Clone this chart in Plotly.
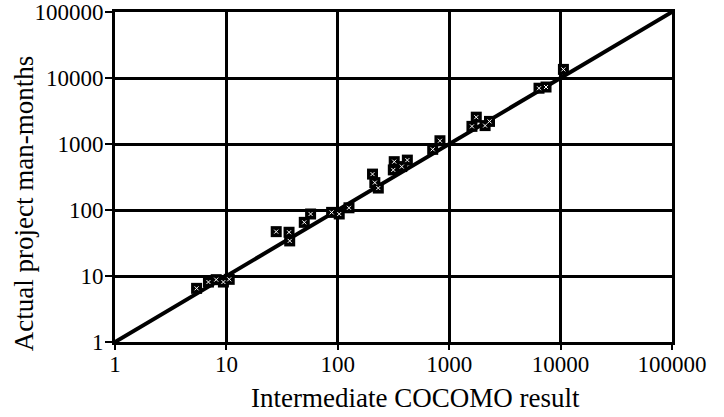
import plotly.graph_objects as go

# COCOMO estimate vs. actual effort
cocomo_result = [5.4, 6.9, 8.1, 9.4, 10.6, 28, 36.5, 37, 50, 57, 88, 103, 126,
                 205, 215, 231, 315, 321, 375, 421, 711, 826,
                 1600, 1750, 2100, 2300, 6400, 7400, 10600]
actual_man_months = [6.5, 8.1, 8.8, 8.1, 8.9, 47, 46, 34, 65, 87, 92, 87, 108,
                     350, 260, 215, 405, 540, 455, 570, 830, 1120,
                     1850, 2550, 1900, 2200, 7000, 7300, 13500]

# perfect-estimate line (actual == estimate)
ideal_x = [1, 100000]
ideal_y = [1, 100000]

tick_values = [1, 10, 100, 1000, 10000, 100000]
tick_labels = ['1', '10', '100', '1000', '10000', '100000']

FONT = 'Liberation Serif, Times New Roman, serif'

fig = go.Figure()

fig.add_trace(go.Scatter(
    x=ideal_x, y=ideal_y, mode='lines',
    line=dict(color='black', width=4),
    showlegend=False, hoverinfo='skip',
))

# black squares with a white speck inside, like the scanned markers
fig.add_trace(go.Scatter(
    x=cocomo_result, y=actual_man_months, mode='markers',
    marker=dict(symbol='square', size=11, color='black'),
    showlegend=False,
))
fig.add_trace(go.Scatter(
    x=cocomo_result, y=actual_man_months, mode='markers',
    marker=dict(symbol='x-thin', size=4, color='white', line=dict(color='white', width=1)),
    showlegend=False, hoverinfo='skip',
))

axis_style = dict(
    type='log', range=[0, 5],
    tickvals=tick_values, ticktext=tick_labels,
    showgrid=True, gridcolor='black', gridwidth=3,
    showline=True, linecolor='black', linewidth=3, mirror=True,
    ticks='outside', tickcolor='black', tickwidth=2,
    zeroline=False, automargin=False, ticklabeloverflow='allow',
    tickfont=dict(family=FONT, size=23, color='black'),
)

fig.update_xaxes(**axis_style, ticklen=5, ticklabelstandoff=-6)
fig.update_yaxes(**axis_style, ticklen=7, ticklabelstandoff=-3)

# axis titles sit a little off-centre in the scan, so place them by hand
fig.add_annotation(
    text='Intermediate COCOMO result', xref='paper', yref='paper',
    x=0.54, y=-0.17, xanchor='center', yanchor='middle', showarrow=False,
    font=dict(family=FONT, size=27, color='black'),
)
fig.add_annotation(
    text='Actual project man-months', xref='paper', yref='paper',
    x=-0.162, y=0.42, xanchor='center', yanchor='middle', showarrow=False,
    textangle=-90,
    font=dict(family=FONT, size=27, color='black'),
)

fig.update_layout(
    width=724, height=417,
    margin=dict(l=115, r=52, t=12, b=75),
    paper_bgcolor='white', plot_bgcolor='white',
    font=dict(family=FONT, color='black'),
)

# drop the browser's default body margin so the chart sits at the page corner
fig.write_html('out.html', config={'displayModeBar': False},
               post_script="document.body.style.margin='0';")
